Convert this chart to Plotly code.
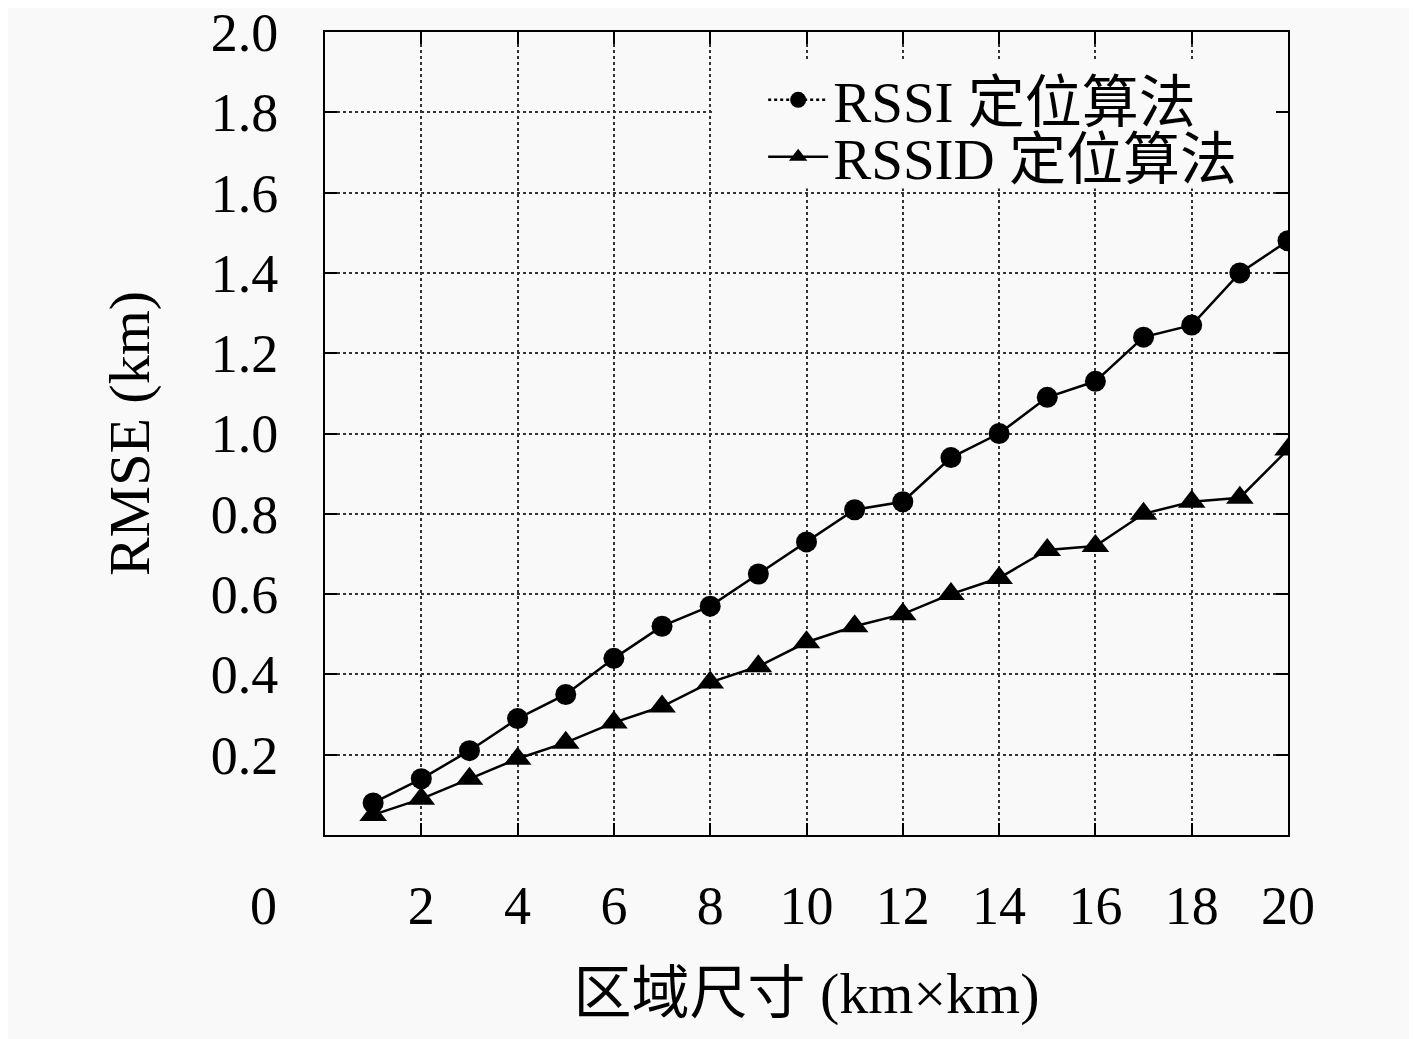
import plotly.graph_objects as go

# area size (km x km)
sizes = list(range(1, 21))
rmse_rssi = [0.08, 0.14, 0.21, 0.29, 0.35, 0.44, 0.52, 0.57, 0.65, 0.73,
             0.81, 0.83, 0.94, 1.00, 1.09, 1.13, 1.24, 1.27, 1.40, 1.48]
rmse_rssid = [0.05, 0.09, 0.14, 0.19, 0.23, 0.28, 0.32, 0.38, 0.42, 0.48,
              0.52, 0.55, 0.60, 0.64, 0.71, 0.72, 0.80, 0.83, 0.84, 0.96]
x_ticks = list(range(2, 21, 2))
y_ticks = [0.2, 0.4, 0.6, 0.8, 1.0, 1.2, 1.4, 1.6, 1.8, 2.0]
y_tick_text = ["%.1f" % v for v in y_ticks]

serif = "Liberation Serif, DejaVu Serif, Noto Sans CJK SC"
bg = "#f9f9f9"

fig = go.Figure()
fig.add_trace(go.Scatter(x=sizes, y=rmse_rssi, mode="lines+markers", showlegend=False,
                         line=dict(color="black", width=2.5),
                         marker=dict(symbol="circle", size=21, color="black")))
fig.add_trace(go.Scatter(x=sizes, y=rmse_rssid, mode="lines+markers", showlegend=False,
                         line=dict(color="black", width=2.5),
                         marker=dict(symbol="triangle-up", size=24, color="black")))
# legend entries (legend shows the RSSI line dotted)
fig.add_trace(go.Scatter(x=[None], y=[None], mode="lines+markers", name="RSSI 定位算法",
                         line=dict(color="black", width=2.5, dash="dot"),
                         marker=dict(symbol="circle", size=16, color="black"), legend="legend"))
fig.add_trace(go.Scatter(x=[None], y=[None], mode="lines+markers", name="RSSID 定位算法",
                         line=dict(color="black", width=2.5),
                         marker=dict(symbol="triangle-up", size=18, color="black"), legend="legend2"))

axis_common = dict(showline=True, linecolor="black", linewidth=2, mirror="ticks",
                   ticks="inside", ticklen=12, tickwidth=2, tickcolor="black",
                   showgrid=True, gridcolor="#333", griddash="dot", gridwidth=1.5,
                   zeroline=False, ticklabeloverflow="allow", automargin=False,
                   tickfont=dict(family=serif, size=54, color="black"))

fig.update_xaxes(range=[0, 20], tickvals=x_ticks, ticklabelstandoff=22,
                 title=dict(text="区域尺寸 (km×km)", font=dict(family=serif, size=58, color="black"),
                            standoff=38),
                 **axis_common)
fig.update_yaxes(range=[0, 2.0], tickvals=y_ticks, ticktext=y_tick_text, ticklabelstandoff=34,
                 title=dict(text="RMSE (km)", font=dict(family=serif, size=58, color="black"),
                            standoff=42),
                 **axis_common)

fig.add_annotation(text="0", x=-0.080, y=-0.128, xref="paper", yref="paper",
                   showarrow=False, font=dict(family=serif, size=54, color="black"))

# legend box hides the grid behind the legend
fig.add_shape(type="rect", xref="x", yref="y", x0=8.05, x1=20, y0=1.61, y1=1.925,
              fillcolor=bg, line=dict(width=0), layer="between")

legend_common = dict(xanchor="left", yanchor="middle", bgcolor="rgba(0,0,0,0)", borderwidth=0,
                     font=dict(family=serif, size=57, color="black"), itemwidth=60)
fig.update_layout(
    width=1409, height=1031,
    margin=dict(l=317, r=129, t=24, b=204),
    paper_bgcolor=bg, plot_bgcolor=bg,
    legend=dict(x=0.455, y=0.915, **legend_common),
    legend2=dict(x=0.455, y=0.844, **legend_common),
    showlegend=True,
)

fig.write_html("out.html")
